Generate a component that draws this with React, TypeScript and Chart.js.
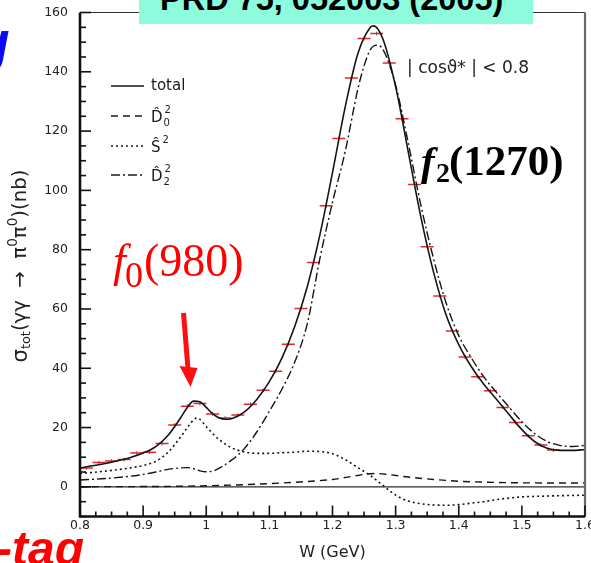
import React, { useEffect, useRef, useState } from "react";
import { Chart, registerables } from "chart.js";

Chart.register(...registerables);

// ---------------- data ----------------
const binW = [0.81, 0.83, 0.85, 0.87, 0.89, 0.91, 0.93, 0.95, 0.97, 0.99, 1.01, 1.03, 1.05, 1.07, 1.09, 1.11, 1.13, 1.15, 1.17, 1.19, 1.21, 1.23, 1.25, 1.27, 1.29, 1.31, 1.33, 1.35, 1.37, 1.39, 1.41, 1.43, 1.45, 1.47, 1.49, 1.51, 1.53, 1.55];
const sigma = [6.4, 8.2, 8.7, 9.2, 11.4, 11.7, 14.6, 20.9, 27.2, 28.1, 24.6, 23.2, 24.2, 27.9, 32.6, 39.0, 48.1, 60.2, 75.7, 94.8, 117.5, 137.9, 151.2, 152.9, 143.0, 124.2, 102.0, 81.0, 64.4, 52.6, 43.8, 37.1, 32.4, 26.8, 21.7, 17.2, 14.1, 12.4];

const totalW = [0.80, 0.82, 0.84, 0.86, 0.88, 0.90, 0.92, 0.94, 0.96, 0.97, 0.98, 0.99, 1.00, 1.01, 1.02, 1.03, 1.04, 1.06, 1.08, 1.10, 1.12, 1.14, 1.16, 1.18, 1.20, 1.22, 1.24, 1.26, 1.265, 1.28, 1.30, 1.32, 1.34, 1.36, 1.38, 1.40, 1.42, 1.44, 1.46, 1.48, 1.50, 1.52, 1.54, 1.56, 1.58, 1.60];
const totalV = [6.4, 7.1, 7.9, 8.8, 9.9, 11.4, 13.6, 17.5, 23.5, 26.8, 28.9, 28.7, 26.8, 24.7, 23.3, 22.8, 23.0, 25.2, 29.5, 35.5, 43.5, 54, 67.5, 85, 106, 128, 146, 155, 155.5, 151, 135, 113, 91, 72.5, 58, 48, 40.5, 34.5, 29.5, 24.3, 19.3, 15.3, 13.0, 12.3, 12.3, 12.6];

const d0W = [0.80, 0.90, 0.96, 1.00, 1.04, 1.08, 1.12, 1.16, 1.20, 1.23, 1.25, 1.27, 1.29, 1.32, 1.36, 1.40, 1.44, 1.50, 1.60];
const d0V = [0.05, 0.1, 0.2, 0.35, 0.6, 0.9, 1.3, 1.8, 2.5, 3.5, 4.2, 4.5, 4.1, 3.3, 2.5, 1.9, 1.6, 1.35, 1.3];

const sW = [0.80, 0.84, 0.88, 0.90, 0.92, 0.94, 0.96, 0.97, 0.98, 0.985, 0.99, 1.00, 1.02, 1.04, 1.06, 1.08, 1.10, 1.12, 1.14, 1.16, 1.18, 1.20, 1.22, 1.24, 1.26, 1.28, 1.30, 1.32, 1.34, 1.36, 1.38, 1.40, 1.42, 1.44, 1.46, 1.48, 1.50, 1.54, 1.60];
const sV = [4.5, 5.3, 6.4, 7.2, 8.6, 11.8, 17, 20, 22.6, 23.2, 22.8, 20.3, 16, 13.2, 11.8, 11.3, 11.3, 11.5, 11.7, 12.0, 11.9, 11.2, 9.2, 6.5, 3.8, 0.5, -2.8, -4.8, -5.7, -6.1, -6.2, -6.0, -5.5, -5.0, -4.3, -3.8, -3.4, -3.1, -2.8];

const d2W = [0.80, 0.84, 0.88, 0.90, 0.92, 0.94, 0.96, 0.97, 0.98, 0.99, 1.00, 1.01, 1.02, 1.04, 1.06, 1.08, 1.10, 1.12, 1.14, 1.16, 1.18, 1.20, 1.22, 1.24, 1.25, 1.26, 1.27, 1.28, 1.30, 1.32, 1.34, 1.36, 1.38, 1.40, 1.42, 1.44, 1.46, 1.48, 1.50, 1.52, 1.54, 1.56, 1.58, 1.60];
const d2V = [2.3, 2.8, 3.6, 4.2, 5.0, 5.9, 6.4, 6.5, 6.1, 5.4, 5.1, 5.3, 6.2, 9.0, 12.8, 18.5, 25.5, 33, 42, 55, 77, 96, 113, 134, 142, 147.5, 149, 147.5, 135.5, 116, 95, 77, 62, 51, 43.5, 37, 31.8, 26.8, 22, 18, 15.3, 14, 13.6, 14];

const yMinorTicks = [-10, -5, 0, 5, 10, 15, 20, 25, 30, 35, 40, 45, 50, 55, 60, 65, 70, 75, 80, 85, 90, 95, 100, 105, 110, 115, 120, 125, 130, 135, 140, 145, 150, 155, 160];
const xMinorTicks = [0.8, 0.825, 0.85, 0.875, 0.9, 0.925, 0.95, 0.975, 1.0, 1.025, 1.05, 1.075, 1.1, 1.125, 1.15, 1.175, 1.2, 1.225, 1.25, 1.275, 1.3, 1.325, 1.35, 1.375, 1.4, 1.425, 1.45, 1.475, 1.5, 1.525, 1.55, 1.575, 1.6];

const legendNames = ["total", "D", "S", "D"];
const legendSub = ["", "0", "", "2"];
const legendSup = ["", "2", "2", "2"];
const legendHat = [false, true, true, true];

const xTitle = "W (GeV)";
const cutLabel = "| cosϑ* | < 0.8";
const refText = "PRD 75, 052003 (2005)";

// ---------------- helpers ----------------
const FONT = "'DejaVu Sans', sans-serif";
const DASH_TOTAL: number[] = [];
const DASH_D0 = [7, 5];
const DASH_S = [2, 3];
const DASH_D2 = [9, 3, 2, 3];
const legendDashes = [DASH_TOTAL, DASH_D0, DASH_S, DASH_D2];

const pts = (xs: number[], ys: number[]) => xs.map((x, i) => ({ x, y: ys[i] }));

function resetCtx(ctx: CanvasRenderingContext2D) {
  ctx.setTransform(1, 0, 0, 1, 0, 0);
  ctx.setLineDash([]);
  ctx.globalAlpha = 1;
  ctx.globalCompositeOperation = "source-over";
  ctx.shadowColor = "rgba(0,0,0,0)";
  ctx.shadowBlur = 0;
}

const zeroPlugin = {
  id: "zeroLine",
  beforeDatasetsDraw(chart: any) {
    const { ctx, chartArea: a, scales } = chart;
    const y0 = scales.y.getPixelForValue(0);
    ctx.save();
    resetCtx(ctx);
    ctx.strokeStyle = "#2a2a2a";
    ctx.lineWidth = 1.4;
    ctx.beginPath();
    ctx.moveTo(a.left, y0);
    ctx.lineTo(a.right, y0);
    ctx.stroke();
    ctx.restore();
  },
};

const framePlugin = {
  id: "frame",
  afterDraw(chart: any) {
    const ctx = chart.ctx;
    const a = chart.chartArea;
    ctx.save();
    resetCtx(ctx);
    ctx.strokeStyle = "#333";
    ctx.lineWidth = 1.2;
    ctx.beginPath();
    ctx.moveTo(a.left, a.top);
    ctx.lineTo(a.right, a.top);
    ctx.stroke();
    ctx.strokeStyle = "#6a6a6a";
    ctx.lineWidth = 2.2;
    ctx.beginPath();
    ctx.moveTo(a.right, a.top);
    ctx.lineTo(a.right, a.bottom);
    ctx.stroke();
    ctx.strokeStyle = "#111";
    ctx.lineWidth = 2.6;
    ctx.beginPath();
    ctx.moveTo(a.left, a.top);
    ctx.lineTo(a.left, a.bottom);
    ctx.lineTo(a.right, a.bottom);
    ctx.stroke();
    ctx.restore();
  },
};

const annotPlugin = {
  id: "annot",
  afterDraw(chart: any) {
    const ctx = chart.ctx;
    ctx.save();
    resetCtx(ctx);
    const rowsY = [86, 116, 146, 175];
    ctx.fillStyle = "#1a1a1a";
    ctx.strokeStyle = "#1a1a1a";
    ctx.textBaseline = "middle";
    ctx.textAlign = "left";
    for (let i = 0; i < legendNames.length; i++) {
      const ry = rowsY[i];
      ctx.lineWidth = 1.4;
      ctx.setLineDash(legendDashes[i]);
      ctx.beginPath();
      ctx.moveTo(111, ry);
      ctx.lineTo(144, ry);
      ctx.stroke();
      ctx.setLineDash([]);
      ctx.font = `15px ${FONT}`;
      const main = legendNames[i] + (legendHat[i] ? "\u0302" : "");
      ctx.fillText(main, 151, ry + (legendHat[i] ? 2 : 0));
      const w = ctx.measureText(legendNames[i]).width;
      ctx.font = `10px ${FONT}`;
      if (legendSub[i]) ctx.fillText(legendSub[i], 151 + w + 1, ry + 7);
      if (legendSup[i]) ctx.fillText(legendSup[i], 151 + w + 2, ry - 6);
    }

    ctx.save();
    ctx.translate(21, 266);
    ctx.rotate(-Math.PI / 2);
    const parts: [string, number, number][] = [
      ["σ", 14, 0],
      ["tot", 8.5, 4],
      ["(γγ  →  π", 13, 0],
      ["0", 9, -5],
      ["π", 13, 0],
      ["0", 9, -5],
      [")(nb)", 13, 0],
    ];
    let total = 0;
    for (const [t, s] of parts) {
      ctx.font = `${s}px ${FONT}`;
      total += ctx.measureText(t).width;
    }
    const k = 193 / total;
    let cx = -(total * k) / 2;
    ctx.fillStyle = "#222";
    for (const [t, s, dy] of parts) {
      ctx.font = `${s * k}px ${FONT}`;
      ctx.fillText(t, cx, dy * k);
      cx += ctx.measureText(t).width;
    }
    ctx.restore();

    ctx.strokeStyle = "#ff1010";
    ctx.fillStyle = "#ff1010";
    ctx.lineWidth = 5;
    ctx.beginPath();
    ctx.moveTo(183.5, 313);
    ctx.lineTo(188, 369);
    ctx.stroke();
    ctx.beginPath();
    ctx.moveTo(179.5, 366);
    ctx.lineTo(197.5, 368);
    ctx.lineTo(190.5, 387);
    ctx.closePath();
    ctx.fill();
    ctx.restore();
  },
};

function Label(props: {
  x: number;
  base: number;
  size: number;
  family: string;
  weight?: string;
  italic?: boolean;
  color: string;
  text: string;
}) {
  const { x, base, size, family, weight = "normal", italic = false, color, text } = props;
  return (
    <div
      style={{
        position: "absolute",
        left: x,
        top: base - 0.84 * size,
        fontSize: size,
        lineHeight: `${size}px`,
        fontFamily: family,
        fontWeight: weight as any,
        fontStyle: italic ? "italic" : "normal",
        color,
        whiteSpace: "nowrap",
        pointerEvents: "none",
      }}
    >
      {text}
    </div>
  );
}

type TickGeom = {
  left: number;
  bottom: number;
  y: { p: number; len: number }[];
  x: { p: number; len: number }[];
};

export default function App() {
  const ref = useRef<HTMLCanvasElement>(null);
  const [ticks, setTicks] = useState<TickGeom | null>(null);

  useEffect(() => {
    const canvas = ref.current;
    if (!canvas) return;
    const lineDs = (label: string, xs: number[], ys: number[], dash: number[], width: number) => ({
      type: "line" as const,
      label,
      data: pts(xs, ys),
      borderColor: "#151515",
      borderWidth: width,
      borderDash: dash,
      pointRadius: 0,
      fill: false,
      cubicInterpolationMode: "monotone" as const,
    });
    const chart = new Chart(canvas, {
      type: "scatter",
      data: {
        datasets: [
          lineDs("total", totalW, totalV, DASH_TOTAL, 1.6),
          lineDs("D0", d0W, d0V, DASH_D0, 1.4),
          lineDs("S", sW, sV, DASH_S, 1.6),
          lineDs("D2", d2W, d2V, DASH_D2, 1.4),
          {
            label: "data",
            data: pts(binW, sigma),
            pointStyle: "line",
            pointRadius: 6.5,
            borderColor: "#e8242a",
            backgroundColor: "#e8242a",
            borderWidth: 1.5,
            showLine: false,
          } as any,
          {
            label: "err",
            data: pts(binW, sigma),
            pointStyle: "line",
            rotation: 90,
            pointRadius: 1.8,
            borderColor: "#355",
            borderWidth: 1,
            showLine: false,
          } as any,
        ],
      },
      options: {
        responsive: false,
        animation: false,
        devicePixelRatio: 1,
        events: [],
        layout: { padding: { left: 0, right: 6, top: 12.5, bottom: 0 }, autoPadding: false } as any,
        plugins: { legend: { display: false }, tooltip: { enabled: false } },
        scales: {
          x: {
            type: "linear",
            min: 0.8,
            max: 1.6,
            grid: { display: false, drawTicks: false },
            border: { display: false },
            ticks: {
              stepSize: 0.1,
              autoSkip: false,
              maxRotation: 0,
              padding: 2,
              color: "#222",
              font: { family: FONT, size: 12.5 },
              callback: (v: any) => String(Math.round(Number(v) * 10) / 10),
            },
            title: {
              display: true,
              text: xTitle,
              color: "#222",
              font: { family: FONT, size: 16 },
              padding: { top: 0, bottom: 1 },
            },
            afterFit: (s: any) => {
              s.height = 46.5;
              s.paddingLeft = 0;
              s.paddingRight = 0;
            },
          },
          y: {
            type: "linear",
            min: -10,
            max: 160,
            grid: { display: false, drawTicks: false },
            border: { display: false },
            ticks: {
              stepSize: 20,
              autoSkip: false,
              padding: 12,
              color: "#222",
              font: { family: FONT, size: 12.5 },
              callback: (v: any) => (Number(v) % 20 === 0 ? String(v) : ""),
            },
            afterFit: (s: any) => {
              s.width = 80;
              s.paddingTop = 0;
              s.paddingBottom = 0;
            },
          },
        },
      } as any,
      plugins: [zeroPlugin, framePlugin, annotPlugin],
    });

    // inward tick marks, positioned from the chart's own scales
    const a = chart.chartArea;
    const xs: any = chart.scales.x;
    const ys: any = chart.scales.y;
    setTicks({
      left: a.left,
      bottom: a.bottom,
      y: yMinorTicks.map((v) => ({ p: ys.getPixelForValue(v), len: v % 20 === 0 ? 11 : 6 })),
      x: xMinorTicks.map((v, i) => ({ p: xs.getPixelForValue(v), len: i % 4 === 0 ? 11 : 5 })),
    });

    return () => chart.destroy();
  }, []);

  return (
    <div
      style={{
        position: "fixed",
        left: 0,
        top: 0,
        width: 591,
        height: 563,
        overflow: "hidden",
        background: "#fff",
      }}
    >
      <canvas ref={ref} width={591} height={563} style={{ position: "absolute", left: 0, top: 0, display: "block" }} />
      {ticks && (
        <svg
          width={591}
          height={563}
          style={{ position: "absolute", left: 0, top: 0, pointerEvents: "none" }}
        >
          {ticks.y.map((t, i) => (
            <line key={"y" + i} x1={ticks.left} y1={t.p} x2={ticks.left + t.len} y2={t.p} stroke="#111" strokeWidth={1.6} />
          ))}
          {ticks.x.map((t, i) => (
            <line key={"x" + i} x1={t.p} y1={ticks.bottom} x2={t.p} y2={ticks.bottom - t.len} stroke="#111" strokeWidth={1.6} />
          ))}
        </svg>
      )}
      <div
        style={{
          position: "absolute",
          left: 139,
          top: 0,
          width: 394,
          height: 24,
          background: "#8cfcdc",
          overflow: "hidden",
        }}
      >
        <Label x={21} base={10} size={32.5} family="'Liberation Sans', Arial, sans-serif" weight="bold" color="#000" text={refText} />
      </div>
      <Label x={-24} base={60.5} size={55} family="'Liberation Sans', Arial, sans-serif" weight="bold" italic color="#0a0af5" text="g" />
      <Label x={-4} base={565} size={48} family="'Liberation Sans', Arial, sans-serif" weight="bold" italic color="#ff0000" text="-tag" />
      <Label x={113} base={277} size={46} family="'Liberation Serif', 'Times New Roman', serif" italic color="#ff0000" text="f" />
      <Label x={125} base={287} size={36} family="'Liberation Serif', 'Times New Roman', serif" color="#ff0000" text="0" />
      <Label x={144} base={277} size={46} family="'Liberation Serif', 'Times New Roman', serif" color="#ff0000" text="(980)" />
      <Label x={421} base={175} size={41} family="'Liberation Serif', 'Times New Roman', serif" weight="bold" italic color="#000" text="f" />
      <Label x={436} base={183} size={28} family="'Liberation Serif', 'Times New Roman', serif" weight="bold" color="#000" text="2" />
      <Label x={449} base={175} size={43} family="'Liberation Serif', 'Times New Roman', serif" weight="bold" color="#000" text="(1270)" />
      <Label x={407} base={73} size={17} family={FONT} color="#222" text={cutLabel} />
    </div>
  );
}
